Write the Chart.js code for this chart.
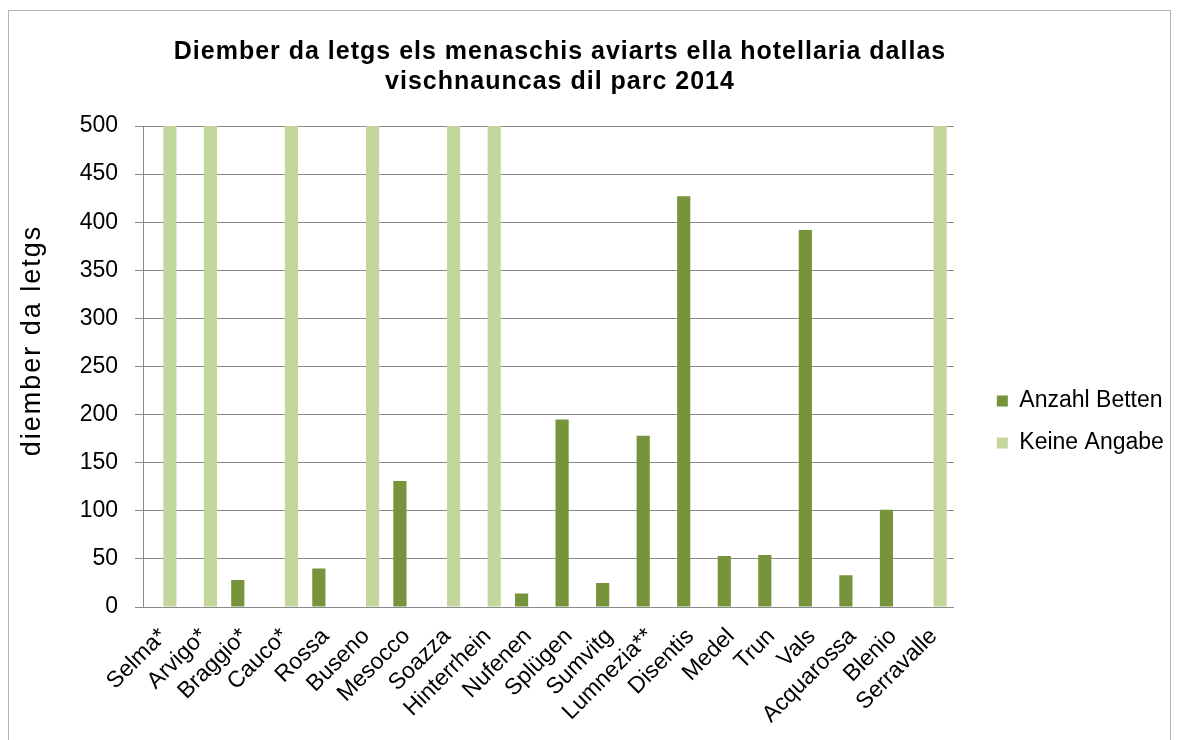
<!DOCTYPE html>
<html>
<head>
<meta charset="utf-8">
<script src="https://cdn.jsdelivr.net/npm/chart.js@4/dist/chart.umd.min.js"></script>
<style>
  body { margin: 0; background: #fff; }
  #frame { position: absolute; left: 8px; top: 10px; width: 1161px; height: 760px; border: 1px solid #b4b4b4; }
  #title { position: absolute; left: 0; top: 35px; width: 1120px; text-align: center;
           font: bold 25px "Liberation Sans", Arial, sans-serif; letter-spacing: 1px; line-height: 30px; color: #000; }
  #wrap { position: absolute; left: 0; top: 0; width: 1178px; height: 740px; }
</style>
</head>
<body>
<div id="frame"></div>
<div id="wrap"><canvas id="hotelChart"></canvas></div>
<div id="title">Diember da letgs els menaschis aviarts ella hotellaria dallas<br>vischnauncas dil parc 2014</div>
<script>
// gemeinden / vischnauncas
const places = ['Selma*', 'Arvigo*', 'Braggio*', 'Cauco*', 'Rossa', 'Buseno', 'Mesocco', 'Soazza',
  'Hinterrhein', 'Nufenen', 'Splügen', 'Sumvitg', 'Lumnezia**', 'Disentis', 'Medel', 'Trun',
  'Vals', 'Acquarossa', 'Blenio', 'Serravalle'];
const anzahlBetten = [null, null, 28, null, 40, null, 131, null, null, 14, 195, 25, 178, 427, 53, 54, 392, 33, 101, null];
const keineAngabe = [500, 500, null, 500, null, 500, null, 500, 500, null, null, null, null, null, null, null, null, null, null, 500];
const yTicks = [0, 50, 100, 150, 200, 250, 300, 350, 400, 450, 500];

const font = { family: '"Liberation Sans", Arial, sans-serif', size: 23 };
const gridGray = '#8a8a8a';

// y title is drawn wider and a bit higher, like the excel original
function spreadTitle(s) {
  if (s._spread) return;
  const orig = s.drawTitle.bind(s);
  s.drawTitle = function () {
    const c = this.ctx;
    c.save();
    c.letterSpacing = '2px';
    c.translate(0, -26);
    orig();
    c.restore();
  };
  s._spread = true;
}

const ctx = document.getElementById('hotelChart').getContext('2d');
const chart = new Chart(ctx, {
  type: 'bar',
  data: {
    labels: places,
    datasets: [
      { label: 'Anzahl Betten', data: anzahlBetten, backgroundColor: '#77933C' },
      { label: 'Keine Angabe', data: keineAngabe, backgroundColor: '#C3D69B' }
    ]
  },
  options: {
    responsive: true,
    maintainAspectRatio: false,
    animation: false,
    barPercentage: 1,
    categoryPercentage: 0.65,
    layout: { padding: { left: 12, right: 7, top: 126, bottom: 0 } },
    scales: {
      x: {
        grid: { display: false, drawTicks: false },
        border: { display: true, color: gridGray },
        ticks: { color: '#000', font: font, maxRotation: 45, minRotation: 45, autoSkip: false, padding: 16 },
        afterFit: s => { s.height = 133; }
      },
      y: {
        min: 0,
        max: 500,
        afterBuildTicks: s => { s.ticks = yTicks.map(v => ({ value: v })); },
        grid: { color: gridGray, tickLength: 8 },
        border: { display: true, color: gridGray },
        ticks: { color: '#000', font: font, padding: 17 },
        title: { display: true, text: 'diember da letgs', color: '#000', font: { family: font.family, size: 27 } },
        afterFit: s => { s.width = 131; spreadTitle(s); }
      },
      // spacer between plot and legend
      gap: {
        position: 'right',
        display: true,
        grid: { display: false, drawTicks: false },
        border: { display: false },
        ticks: { display: false },
        afterFit: s => { s.width = 24; }
      }
    },
    plugins: {
      legend: {
        position: 'right',
        fullSize: false,
        title: { display: true, text: ' ', font: { size: 10 }, padding: { top: 50, bottom: 49 } },
        labels: { boxWidth: 11, boxHeight: 11, padding: 19, color: '#000', font: font }
      },
      tooltip: { enabled: false }
    }
  }
});
</script>
</body>
</html>
